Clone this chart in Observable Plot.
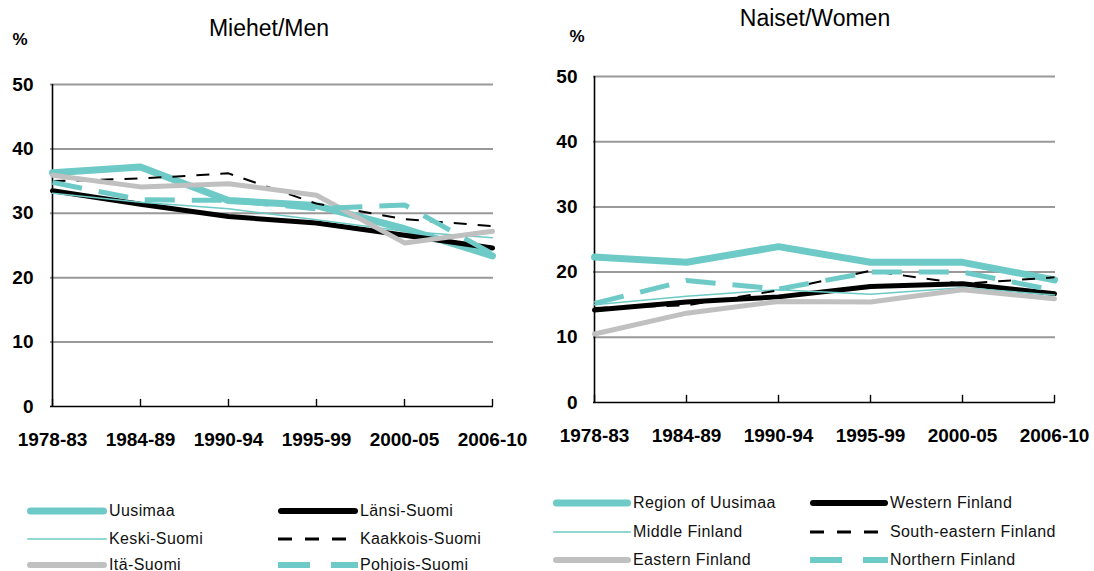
<!DOCTYPE html>
<html><head><meta charset="utf-8">
<script src="https://cdn.jsdelivr.net/npm/d3@7"></script>
<script src="https://cdn.jsdelivr.net/npm/@observablehq/plot@0.6"></script>
<style>
body{margin:0;background:#fff;font-family:"Liberation Sans",Arial,sans-serif;}
#wrap{position:relative;width:1094px;height:571px;overflow:hidden;background:#fff}
.abs{position:absolute}
.title{font-size:23px;color:#000;transform:translate(-50%,-50%);white-space:nowrap}
.pct{font-size:17px;font-weight:bold;transform:translate(-50%,-50%)}
.leg{font-size:16px;letter-spacing:0.4px;white-space:nowrap;transform:translateY(-50%);display:flex;align-items:center;color:#111}
.leg svg{display:block}
</style></head>
<body><div id="wrap"></div>
<script>
// ---- data ----
const periods = ["1978-83","1984-89","1990-94","1995-99","2000-05","2006-10"];
const yTicks = [0,10,20,30,40,50];

const namesMen = ["Uusimaa","Länsi-Suomi","Keski-Suomi","Kaakkois-Suomi","Itä-Suomi","Pohjois-Suomi"];
const namesWomen = ["Region of Uusimaa","Western Finland","Middle Finland","South-eastern Finland","Eastern Finland","Northern Finland"];

const uusimaaM  = [36.3, 37.2, 32.0, 31.2, 27.6, 23.4];
const lansiM    = [33.5, 31.4, 29.5, 28.5, 26.6, 24.6];
const keskiM    = [33.1, 31.7, 30.7, 29.0, 27.2, 26.2];
const kaakkoisM = [35.0, 35.4, 36.2, 31.5, 29.1, 28.0];
const itaM      = [35.9, 34.1, 34.6, 32.8, 25.4, 27.2];
const pohjoisM  = [34.8, 32.1, 32.0, 30.7, 31.3, 23.7];

const uusimaaW  = [22.3, 21.5, 23.9, 21.5, 21.5, 18.8];
const lansiW    = [14.2, 15.4, 16.2, 17.8, 18.2, 16.7];
const keskiW    = [15.0, 16.3, 17.3, 16.6, 17.6, 16.5];
const kaakkoisW = [14.5, 14.9, 17.2, 20.2, 18.2, 19.2];
const itaW      = [10.5, 13.7, 15.5, 15.4, 17.3, 15.9];
const pohjoisW  = [15.2, 18.7, 17.4, 20.0, 20.0, 17.2];

// ---- styles ----
const TEAL = "#6dcac6", GRAY = "#c0c0c0";
const styles = [
  {stroke: TEAL, w: 7, lw: 7},
  {stroke: "#000", w: 5, lw: 6},
  {stroke: TEAL, w: 1.5, lw: 1.5},
  {stroke: "#000", w: 2, lw: 3, dash: "13,11", ldash: "14,13"},
  {stroke: GRAY, w: 5, lw: 6},
  {stroke: TEAL, w: 5, lw: 6, dash: "30,17", ldash: "32,21"}
];

const wrap = document.getElementById("wrap");

function makePlot(seriesArr, opt) {
  const marks = [
    Plot.ruleY([10,20,30,40,50], {stroke: "#999", strokeWidth: 2}),
    Plot.ruleY([0], {stroke: "#000", strokeWidth: 1.6}),
    Plot.ruleX([periods[0]], {y1: 0, y2: 50, stroke: "#000", strokeWidth: 1.6}),
    Plot.ruleX(periods, {y1: 0, y2: 1.1, stroke: "#000", strokeWidth: 1.4}),
    Plot.axisX({tickSize: 0, tickPadding: 26, fontSize: 19, fontWeight: "bold", label: null}),
    Plot.axisY({ticks: yTicks, tickSize: 0, tickPadding: opt.yPad, fontSize: 19, fontWeight: "bold", label: null})
  ];
  seriesArr.forEach((vals, i) => {
    const s = styles[i];
    const rows = periods.map((p, j) => ({p, v: vals[j]}));
    marks.push(Plot.line(rows, {x: "p", y: "v", stroke: s.stroke, strokeWidth: s.w,
      strokeDasharray: s.dash, strokeLinejoin: "round", strokeLinecap: s.dash ? "butt" : "round", curve: "linear"}));
  });
  return Plot.plot({
    width: opt.width, height: 400,
    marginLeft: opt.ml, marginRight: opt.mr, marginTop: opt.mt, marginBottom: opt.mb,
    x: {type: "point", domain: periods, padding: 0, axis: null},
    y: {domain: [0, 50], axis: null},
    style: {fontFamily: "Liberation Sans, Arial, sans-serif", color: "#000", background: "transparent", overflow: "visible"},
    marks
  });
}

function place(el, left, top) {
  el.style.position = "absolute"; el.style.left = left + "px"; el.style.top = top + "px";
  wrap.appendChild(el);
}

const pm = makePlot([uusimaaM, lansiM, keskiM, kaakkoisM, itaM, pohjoisM],
  {width: 540, ml: 50, mr: 47, mt: 24, mb: 54, yPad: 17});
place(pm, 0, 60);
const pw = makePlot([uusimaaW, lansiW, keskiW, kaakkoisW, itaW, pohjoisW],
  {width: 554, ml: 53, mr: 39, mt: 26, mb: 48, yPad: 16});
place(pw, 540, 50);

function addText(cls, txt, x, y) {
  const d = document.createElement("div");
  d.className = "abs " + cls; d.textContent = txt;
  d.style.left = x + "px"; d.style.top = y + "px";
  wrap.appendChild(d);
}
addText("title", "Miehet/Men", 269, 28);
addText("title", "Naiset/Women", 815, 18);
addText("pct", "%", 20, 40);
addText("pct", "%", 577, 37);

function legend(names, cols, rows, swW) {
  names.forEach((n, i) => {
    const s = styles[i];
    const col = i % 2, row = Math.floor(i / 2);
    const d = document.createElement("div");
    d.className = "abs leg";
    d.style.left = cols[col] + "px"; d.style.top = rows[row] + "px";
    const svg = d3.create("svg").attr("width", swW).attr("height", 12);
    svg.append("line").attr("x1", s.dash ? 0 : s.lw / 2).attr("x2", swW - (s.dash ? 0 : s.lw / 2))
      .attr("y1", 6).attr("y2", 6)
      .attr("stroke", s.stroke).attr("stroke-width", s.lw)
      .attr("stroke-linecap", s.dash ? "butt" : "round")
      .attr("stroke-dasharray", s.ldash || null);
    d.appendChild(svg.node());
    const t = document.createElement("span");
    t.textContent = n; t.style.marginLeft = "2px";
    d.appendChild(t);
    wrap.appendChild(d);
  });
}
legend(namesMen, [27, 278], [511, 539, 565], 80);
legend(namesWomen, [553, 810], [503, 532, 560], 78);
</script>
</body></html>
